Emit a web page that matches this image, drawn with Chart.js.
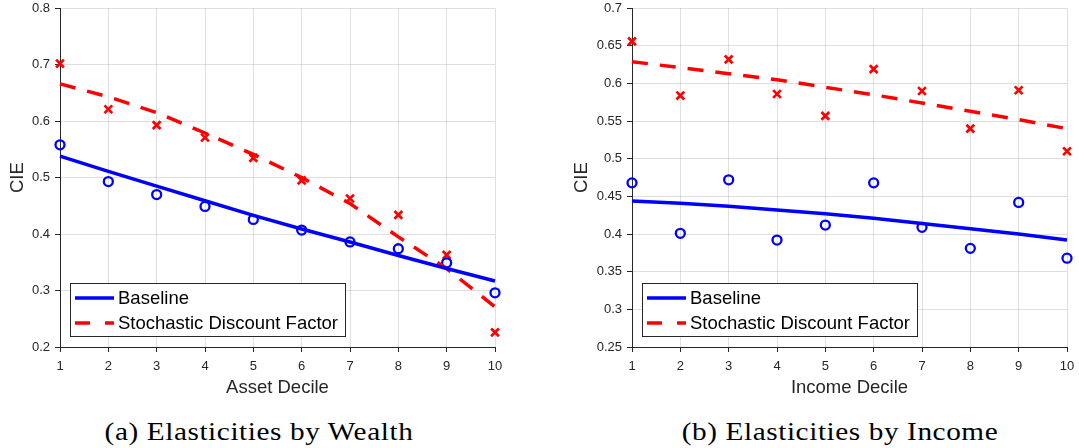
<!DOCTYPE html>
<html>
<head>
<meta charset="utf-8">
<script src="https://cdn.jsdelivr.net/npm/chart.js@4.4.0/dist/chart.umd.min.js"></script>
<style>
  body { margin: 0; width: 1079px; height: 448px; background: #fff; position: relative; overflow: hidden; }
  canvas { position: absolute; top: 0; }
  #wealth { left: 0; }
  #income { left: 540px; }
  .caption {
    position: absolute; top: 416px; width: 400px; height: 32px; line-height: 32px;
    font-family: 'Liberation Serif', serif; font-size: 25px; color: #000;
    letter-spacing: 0.5px; text-align: center; white-space: nowrap; transform: scaleX(1.17);
  }
</style>
</head>
<body>
<canvas id="wealth" width="540" height="400"></canvas>
<canvas id="income" width="539" height="400"></canvas>
<div class="caption" style="left:59px">(a) Elasticities by Wealth</div>
<div class="caption" style="left:640px">(b) Elasticities by Income</div>
<script>
const deciles = [1, 2, 3, 4, 5, 6, 7, 8, 9, 10];
const seriesNames = ['Baseline', 'Stochastic Discount Factor'];

// panel (a): by asset decile
const wealthBaselinePts = [0.558, 0.493, 0.470, 0.449, 0.426, 0.407, 0.386, 0.374, 0.349, 0.296];
const wealthBaselineFit = [0.538, 0.511, 0.485, 0.459, 0.433, 0.409, 0.386, 0.362, 0.339, 0.317];
const wealthSdfPts = [0.702, 0.621, 0.593, 0.571, 0.535, 0.495, 0.463, 0.434, 0.363, 0.226];
const wealthSdfFit = [0.666, 0.643, 0.615, 0.579, 0.541, 0.500, 0.454, 0.395, 0.339, 0.271];
const wealthYTicks = [0.2, 0.3, 0.4, 0.5, 0.6, 0.7, 0.8];

// panel (b): by income decile
const incomeBaselinePts = [0.468, 0.401, 0.472, 0.392, 0.412, 0.468, 0.409, 0.381, 0.442, 0.368];
const incomeBaselineFit = [0.444, 0.441, 0.437, 0.432, 0.427, 0.421, 0.414, 0.407, 0.400, 0.392];
const incomeSdfPts = [0.656, 0.584, 0.632, 0.586, 0.557, 0.619, 0.590, 0.540, 0.591, 0.510];
const incomeSdfFit = [0.629, 0.621, 0.613, 0.605, 0.595, 0.585, 0.574, 0.563, 0.552, 0.540];
const incomeYTicks = [0.25, 0.3, 0.35, 0.4, 0.45, 0.5, 0.55, 0.6, 0.65, 0.7];

const BLUE = '#0000ff';
const RED = '#ff0000';
const AXIS = '#262626';
const GRID = 'rgba(38,38,38,0.15)';
const DASH = [16, 12];

Chart.defaults.font.family = "'Liberation Sans', Arial, sans-serif";
Chart.defaults.color = AXIS;

const toXY = vals => deciles.map((d, i) => ({ x: d, y: vals[i] }));

// MATLAB-style boxed legend in the lower left of the axes
const boxLegend = {
  id: 'boxLegend',
  afterDraw(chart) {
    const { ctx, chartArea } = chart;
    const w = 275, h = 53;
    const x0 = Math.round(chartArea.left + 10), y0 = Math.round(chartArea.bottom - 11 - h);
    ctx.save();
    ctx.fillStyle = '#fff';
    ctx.fillRect(x0, y0, w, h);
    ctx.strokeStyle = AXIS;
    ctx.lineWidth = 1;
    ctx.strokeRect(x0 + 0.5, y0 + 0.5, w, h);

    const rows = [
      { y: y0 + 15, color: BLUE, dash: [] },
      { y: y0 + 40, color: RED, dash: [15, 15] }
    ];
    ctx.font = "18.5px 'Liberation Sans', Arial, sans-serif";
    ctx.textBaseline = 'middle';
    rows.forEach((r, i) => {
      ctx.beginPath();
      ctx.setLineDash(r.dash);
      ctx.strokeStyle = r.color;
      ctx.lineWidth = 3.5;
      ctx.moveTo(x0 + 5, r.y);
      ctx.lineTo(x0 + 44, r.y);
      ctx.stroke();
      ctx.setLineDash([]);
      ctx.fillStyle = '#000';
      ctx.fillText(seriesNames[i], x0 + 48, r.y + 1);
    });
    ctx.restore();
  }
};

function drawPanel(id, opts) {
  new Chart(document.getElementById(id), {
    type: 'scatter',
    data: {
      datasets: [
        {
          data: toXY(opts.baseFit), showLine: true, borderColor: BLUE, borderWidth: 3.5,
          pointRadius: 0, clip: false
        },
        {
          data: toXY(opts.sdfFit), showLine: true, borderColor: RED, borderWidth: 3.5,
          borderDash: DASH, pointRadius: 0, clip: false
        },
        {
          data: toXY(opts.basePts), showLine: false, pointStyle: 'circle', pointRadius: 4.5,
          pointBorderWidth: 2.3, pointBorderColor: BLUE, pointBackgroundColor: 'rgba(0,0,0,0)', clip: false
        },
        {
          data: toXY(opts.sdfPts), showLine: false, pointStyle: 'crossRot', pointRadius: 5.5,
          pointBorderWidth: 2.7, pointBorderColor: RED, clip: false
        }
      ]
    },
    options: {
      responsive: false,
      animation: false,
      devicePixelRatio: 1,
      layout: { padding: { top: 7, right: opts.padRight, left: 0, bottom: 0 } },
      plugins: { legend: { display: false }, tooltip: { enabled: false } },
      scales: {
        x: {
          type: 'linear', min: 1, max: 10,
          afterBuildTicks: s => { s.ticks = deciles.map(v => ({ value: v })); },
          afterFit: s => { s.height = 53; s.paddingLeft = 0; s.paddingRight = 0; },
          grid: { color: GRID, tickColor: AXIS, tickLength: 5 },
          border: { color: AXIS },
          ticks: { font: { size: 13 }, padding: 7, maxRotation: 0 },
          title: { display: true, text: opts.xTitle, font: { size: 18.5 }, padding: { top: 0, bottom: 1 } }
        },
        y: {
          min: opts.yTicks[0], max: opts.yTicks[opts.yTicks.length - 1],
          afterBuildTicks: s => { s.ticks = opts.yTicks.map(v => ({ value: v })); },
          afterFit: s => { s.width = opts.yWidth; s.paddingTop = 0; s.paddingBottom = 0; },
          grid: { color: GRID, tickColor: AXIS, tickLength: 5 },
          border: { color: AXIS },
          ticks: { font: { size: 13 }, padding: 5, callback: v => String(+v.toFixed(2)) },
          title: { display: true, text: 'CIE', font: { size: 18.5 }, padding: { top: opts.titlePad } }
        }
      }
    },
    plugins: [boxLegend]
  });
}

drawPanel('wealth', {
  basePts: wealthBaselinePts, baseFit: wealthBaselineFit,
  sdfPts: wealthSdfPts, sdfFit: wealthSdfFit,
  yTicks: wealthYTicks, xTitle: 'Asset Decile',
  yWidth: 60, padRight: 45, titlePad: 7
});

drawPanel('income', {
  basePts: incomeBaselinePts, baseFit: incomeBaselineFit,
  sdfPts: incomeSdfPts, sdfFit: incomeSdfFit,
  yTicks: incomeYTicks, xTitle: 'Income Decile',
  yWidth: 92, padRight: 12, titlePad: 31
});
</script>
</body>
</html>
